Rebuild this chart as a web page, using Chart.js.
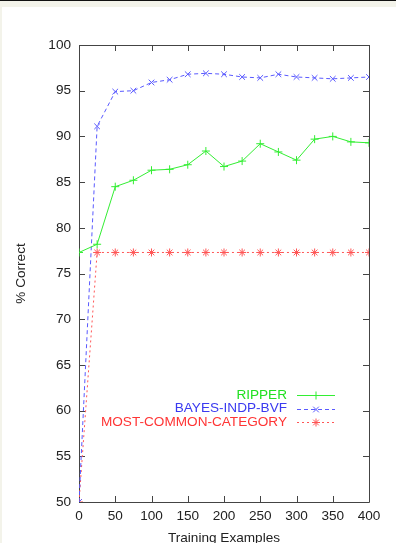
<!DOCTYPE html>
<html>
<head>
<meta charset="utf-8">
<script src="https://cdn.jsdelivr.net/npm/chart.js@4.4.0/dist/chart.umd.min.js"></script>
<style>
html,body{margin:0;padding:0;background:#fff;}
canvas{display:block;}
</style>
</head>
<body>
<canvas id="c" width="396" height="543"></canvas>
<script>
const trainingExamples = [0,25,50,75,100,125,150,175,200,225,250,275,300,325,350,375,400];
const ripper = [77.3,78.2,84.5,85.2,86.3,86.4,86.9,88.4,86.7,87.3,89.2,88.3,87.4,89.7,90.0,89.4,89.3];
const bayesIndpBvf = [50,91.1,94.9,95.0,95.9,96.2,96.8,96.9,96.8,96.5,96.4,96.8,96.5,96.4,96.3,96.4,96.5];
const mostCommonCategory = [50,77.3,77.3,77.3,77.3,77.3,77.3,77.3,77.3,77.3,77.3,77.3,77.3,77.3,77.3,77.3,77.3];
const seriesLabels = ['RIPPER','BAYES-INDP-BVF','MOST-COMMON-CATEGORY'];
const xTickStep = 50, yTickStep = 5;

const FONT = "'Liberation Sans', Arial, sans-serif";
const FS = 13.6;
const toPts = arr => arr.map((v,i)=>({x:trainingExamples[i], y:v}));

const styles = [
  {color:'#33ee33', text:'#22e022', dash:[], point:'cross'},
  {color:'#5a5aff', text:'#3a3af0', dash:[4,3], point:'crossRot'},
  {color:'#ff5555', text:'#ff3535', dash:[2,3], point:'star'}
];
const seriesData = [ripper, bayesIndpBvf, mostCommonCategory];

const datasets = seriesData.map((d,i)=>({
  label: seriesLabels[i],
  data: toPts(d),
  borderColor: styles[i].color,
  backgroundColor: styles[i].color,
  borderWidth: 1,
  borderDash: styles[i].dash,
  pointStyle: styles[i].point,
  pointRadius: 4,
  pointBorderWidth: 1,
  pointBorderColor: styles[i].color,
  tension: 0,
  fill: false
}));

const framePlugin = {
  id: 'frame',
  beforeDraw(chart){
    const ctx = chart.ctx;
    ctx.save();
    ctx.fillStyle = '#fff';
    ctx.fillRect(0,0,chart.width,chart.height);
    ctx.fillStyle = '#f3f3ea';
    ctx.fillRect(0,0,chart.width,7);
    ctx.fillRect(0,0,2,chart.height);
    ctx.fillStyle = '#111';
    ctx.fillRect(0,0,chart.width,1);
    ctx.restore();
  },
  beforeDatasetsDraw(chart){
    const ctx = chart.ctx, a = chart.chartArea;
    const xs = chart.scales.x, ys = chart.scales.y;
    ctx.save();
    ctx.strokeStyle = '#444';
    ctx.lineWidth = 1;
    ctx.beginPath();
    ctx.rect(Math.round(a.left)+0.5, Math.round(a.top)+0.5, Math.round(a.right-a.left), Math.round(a.bottom-a.top));
    const tl = 6;
    xs.ticks.forEach(t=>{
      const px = Math.round(xs.getPixelForValue(t.value))+0.5;
      ctx.moveTo(px, a.bottom); ctx.lineTo(px, a.bottom-tl);
      ctx.moveTo(px, a.top); ctx.lineTo(px, a.top+tl);
    });
    ys.ticks.forEach(t=>{
      const py = Math.round(ys.getPixelForValue(t.value))+0.5;
      ctx.moveTo(a.left, py); ctx.lineTo(a.left+tl, py);
      ctx.moveTo(a.right, py); ctx.lineTo(a.right-tl, py);
    });
    ctx.stroke();
    ctx.restore();
  },
  afterDatasetsDraw(chart){
    const ctx = chart.ctx, a = chart.chartArea;
    ctx.save();
    ctx.font = FS + 'px ' + FONT;
    ctx.textAlign = 'right';
    ctx.textBaseline = 'middle';
    const x1 = a.right - 72, x2 = a.right - 34, tx = a.right - 82;
    chart.data.datasets.forEach((ds,i)=>{
      const y = a.bottom - 107 + i*13.7;
      ctx.fillStyle = styles[i].text;
      ctx.fillText(ds.label, tx, y);
      ctx.strokeStyle = ds.borderColor;
      ctx.lineWidth = 1;
      ctx.setLineDash(ds.borderDash);
      ctx.beginPath();
      ctx.moveTo(x1, Math.round(y)+0.5); ctx.lineTo(x2, Math.round(y)+0.5);
      ctx.stroke();
      ctx.setLineDash([]);
      if (Chart.helpers && Chart.helpers.drawPoint) {
        ctx.fillStyle = ds.borderColor;
        Chart.helpers.drawPoint(ctx, {pointStyle: ds.pointStyle, radius: 4, borderWidth: 1}, (x1+x2)/2, Math.round(y)+0.5);
      }
    });
    ctx.restore();
  }
};

new Chart(document.getElementById('c'), {
  type: 'line',
  data: { datasets },
  plugins: [framePlugin],
  options: {
    responsive: false,
    animation: false,
    layout: { padding: { top: 45, right: 27, left: 0, bottom: 0 } },
    plugins: { legend: { display: false }, tooltip: { enabled: false } },
    scales: {
      x: {
        type: 'linear', min: 0, max: 400,
        grid: { display: false, tickLength: 0 },
        border: { display: false },
        ticks: { stepSize: xTickStep, color: '#222', font: { family: FONT, size: FS }, padding: 6, maxRotation: 0 },
        title: { display: true, text: 'Training Examples', color: '#222', font: { family: FONT, size: FS }, padding: { top: 0, bottom: -3 } },
        afterFit(s){ s.height = 41; }
      },
      y: {
        type: 'linear', min: 50, max: 100,
        grid: { display: false, tickLength: 0 },
        border: { display: false },
        ticks: { stepSize: yTickStep, color: '#222', font: { family: FONT, size: FS }, padding: 8 },
        title: { display: true, text: '% Correct', color: '#222', font: { family: FONT, size: FS }, padding: { top: 13, bottom: 0 } },
        afterFit(s){ s.width = 79; }
      }
    }
  }
});
</script>
</body>
</html>
